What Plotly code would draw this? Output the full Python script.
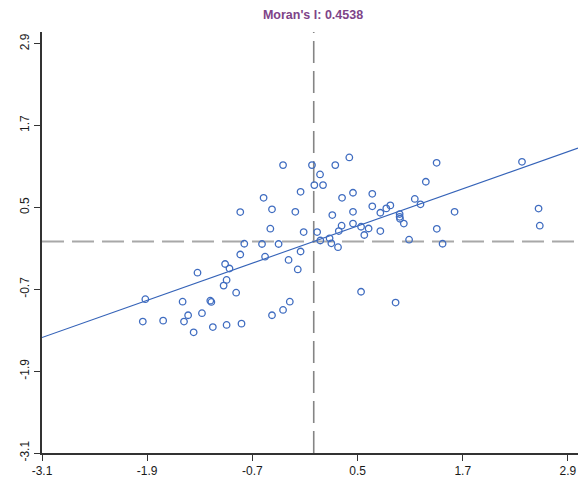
import plotly.graph_objects as go

# Standardized values (z) and spatial lag (Wz)
z = [-0.572, -0.838, -0.476, -0.495, -0.792, -0.590, 0.406, -0.350, -0.020, 0.246,
     0.072, 0.007, 0.106, -0.150, 0.448, 0.668, 0.323, 1.153, -0.210, 0.668,
     0.828, 0.874, 0.760, 0.448, 0.212, 0.980, 0.980, 0.984, 1.028, 0.318,
     0.448, 0.540, 0.626, 0.577, 0.760, -0.115, 0.039, 0.286, 0.181, 0.075,
     0.201, 1.088, -0.401, 1.402, 2.376, 1.279, 1.218, 1.607, 2.565, 1.404,
     2.579, 1.470, -0.838, -0.555, -1.011, -0.961, -1.326, -0.994, -1.028, -0.885,
     -1.921, -1.496, -1.180, -1.168, -1.433, -1.275, -1.950, -1.718, -1.480, -0.476,
     -1.151, -0.994, -0.824, -1.370, 0.277, -0.150, -0.287, -0.182, 0.540, 0.934,
     -0.273, -0.350]
wz = [0.640, 0.431, 0.471, 0.187, -0.033, -0.037, 1.232, 1.119, 1.119, 1.119,
      0.983, 0.826, 0.826, 0.728, 0.714, 0.699, 0.640, 0.624, 0.435, 0.515,
      0.485, 0.529, 0.421, 0.435, 0.387, 0.402, 0.362, 0.333, 0.263, 0.231,
      0.263, 0.216, 0.190, 0.095, 0.153, 0.138, 0.138, 0.153, 0.046, 0.014,
      -0.027, 0.026, -0.037, 1.153, 1.167, 0.875, 0.544, 0.435, 0.482, 0.185,
      0.231, -0.033, -0.191, -0.223, -0.330, -0.396, -0.457, -0.564, -0.647, -0.751,
      -0.846, -0.882, -0.868, -0.886, -1.081, -1.051, -1.174, -1.160, -1.174, -1.081,
      -1.255, -1.223, -1.204, -1.332, -0.084, -0.147, -0.271, -0.410, -0.737, -0.896,
      -0.882, -1.003]
morans_i = 0.4538
mean_z = 0.0
mean_wz = 0.0
tick_vals = [-3.1, -1.9, -0.7, 0.5, 1.7, 2.9]
tick_text = ["-3.1", "-1.9", "-0.7", "0.5", "1.7", "2.9"]
x_range = [-3.1, 3.015]
y_range = [-3.1, 3.07]

font_family = "Liberation Sans, Arial, sans-serif"

fig = go.Figure()

# dashed reference lines at means
fig.add_trace(go.Scatter(
    x=[mean_z, mean_z], y=y_range, mode="lines",
    line=dict(color="#858585", width=1.6, dash="22px,8px"),
    hoverinfo="skip", showlegend=False))
fig.add_trace(go.Scatter(
    x=x_range, y=[mean_wz, mean_wz], mode="lines",
    line=dict(color="#a8a8a8", width=2, dash="22px,8px"),
    hoverinfo="skip", showlegend=False))

# regression line
fig.add_trace(go.Scatter(
    x=x_range, y=[morans_i * v for v in x_range], mode="lines",
    line=dict(color="#3563b8", width=1.1),
    hoverinfo="skip", showlegend=False))

# points
fig.add_trace(go.Scatter(
    x=z, y=wz, mode="markers",
    marker=dict(symbol="circle-open", size=6.5, color="#3f6cc0",
                line=dict(width=1.3, color="#3f6cc0")),
    showlegend=False))

axis_common = dict(
    showline=True, linecolor="#333333", linewidth=1.5,
    showgrid=False, zeroline=False, ticks="outside", ticklen=6,
    tickwidth=1.3, tickcolor="#333333", tickvals=tick_vals, ticktext=tick_text,
    tickfont=dict(family=font_family, size=12, color="#1a1a1a"),
)

W, H = 578, 479
fig.update_layout(
    width=W, height=H,
    margin=dict(l=42, r=0, t=32, b=26),
    paper_bgcolor="white", plot_bgcolor="white",
    xaxis=dict(range=x_range, **axis_common),
    yaxis=dict(range=y_range, tickangle=-90, **axis_common),
    title=dict(
        text="<b>Moran's I: 0.4538</b>",
        x=313 / W, xref="container", xanchor="center",
        y=1 - 15 / H, yref="container", yanchor="middle",
        font=dict(family=font_family, size=12.5, color="#7e4488")),
)

fig.write_html(
    "out.html",
    config={"displayModeBar": False},
    post_script="document.body.style.margin='0';document.body.style.overflow='hidden';",
)
